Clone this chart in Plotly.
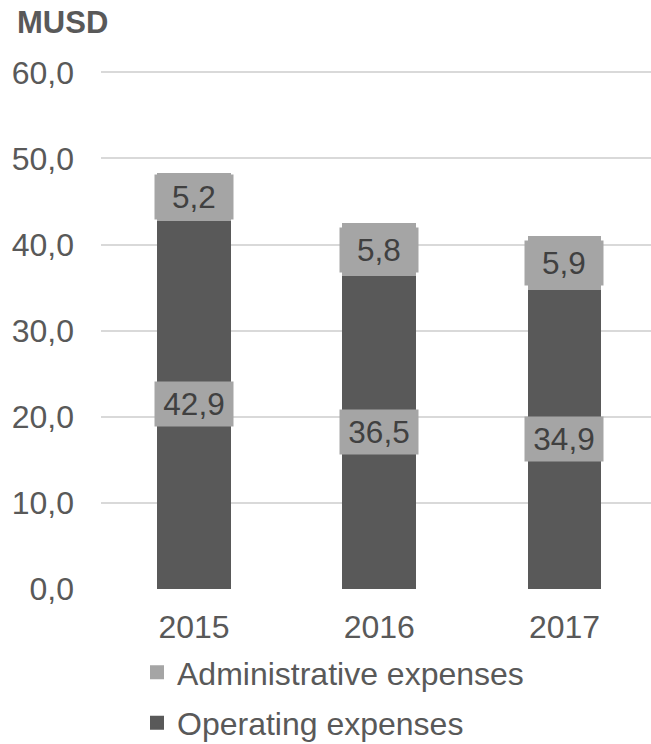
import plotly.graph_objects as go

years = ["2015", "2016", "2017"]
operating = [42.9, 36.5, 34.9]
administrative = [5.2, 5.8, 5.9]
y_ticks = [0, 10, 20, 30, 40, 50, 60]
y_tick_labels = ["0,0", "10,0", "20,0", "30,0", "40,0", "50,0", "60,0"]

FONT = "Liberation Sans, Arial, sans-serif"
C_OP = "#595959"
C_AD = "#a5a5a5"

def fmt(v):
    return f"{v:.1f}".replace(".", ",")

fig = go.Figure()
fig.add_trace(go.Bar(x=years, y=operating, name="Operating expenses",
                     marker=dict(color=C_OP, line=dict(color=C_OP, width=3)),
                     width=0.383, legendgroup="op", legendrank=2))
fig.add_trace(go.Bar(x=years, y=administrative, name="Administrative expenses",
                     marker=dict(color=C_AD, line=dict(color=C_AD, width=3)),
                     width=0.383, legendgroup="ad", legendrank=1))

annotations = []
for i, yr in enumerate(years):
    op = operating[i]
    ad = administrative[i]
    for val, ymid in ((op, op / 2), (ad, op + ad / 2)):
        annotations.append(dict(x=i, y=ymid, xref="x", yref="y", text=fmt(val),
                                showarrow=False, bgcolor=C_AD, width=72, height=38,
                                borderpad=3, font=dict(family=FONT, size=31.5, color="#404040")))

PLOT_H = 517 * 60.5 / 60
TOP = 589 - PLOT_H
annotations.append(dict(xref="paper", yref="paper", x=(15 - 101) / 550, y=(589 - 22) / PLOT_H,
                        xanchor="left", yanchor="middle", text="<b>MUSD</b>", showarrow=False,
                        font=dict(family=FONT, size=31, color="#595959")))

fig.update_layout(
    width=651, height=744,
    margin=dict(l=101, r=0, t=TOP, b=155, autoexpand=False),
    barmode="stack",
    plot_bgcolor="white", paper_bgcolor="white",
    font=dict(family=FONT, size=32, color="#595959"),
    annotations=annotations,
    showlegend=True,
    legend=dict(orientation="v", x=(137 - 101) / 550, y=(589 - 645) / PLOT_H,
                xanchor="left", yanchor="top", font=dict(family=FONT, size=32, color="#595959"),
                tracegroupgap=6, itemsizing="constant"),
    xaxis=dict(type="category", range=[-0.502, 2.467], showgrid=False, zeroline=False,
               showline=False, ticks="", ticklabelstandoff=16, fixedrange=True),
    yaxis=dict(range=[0, 60.5], tickvals=y_ticks, ticktext=y_tick_labels, showgrid=True,
               gridcolor="#d9d9d9", gridwidth=2, zeroline=False, showline=False,
               ticks="", ticklabelstandoff=26, fixedrange=True),
)

fig.write_html("out.html", config={"displayModeBar": False},
               post_script="document.body.style.margin='0';document.body.style.overflow='hidden';")
